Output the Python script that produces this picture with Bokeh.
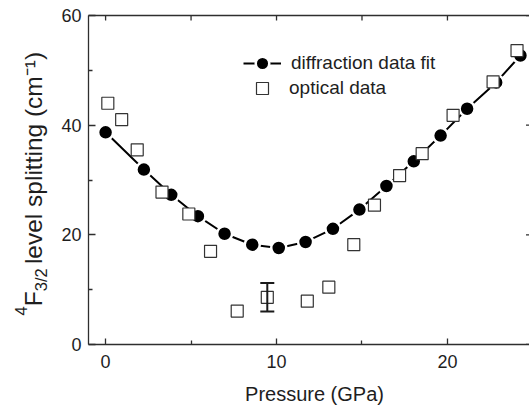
import math
from bokeh.plotting import figure
from bokeh.models import (Range1d, LinearAxis, FixedTicker, Label, Legend, LegendItem,
                          Whisker, ColumnDataSource, TeeHead)
from bokeh.embed import file_html
from bokeh.resources import INLINE

# ---- data ----
diff_p = [0.0, 2.24, 3.84, 5.40, 6.96, 8.58, 10.13, 11.70, 13.3, 14.85, 16.43, 18.03, 19.6, 21.15, 22.85, 24.27]
diff_s = [38.7, 31.9, 27.3, 23.4, 20.2, 18.2, 17.6, 18.7, 21.1, 24.6, 28.9, 33.4, 38.1, 43.0, 47.8, 52.7]

opt_p = [0.13, 0.94, 1.85, 3.3, 4.87, 6.14, 7.7, 9.46, 11.8, 13.06, 14.52, 15.73, 17.2, 18.52, 20.33, 22.67, 24.07]
opt_s = [44.0, 41.0, 35.5, 27.8, 23.8, 17.0, 6.1, 8.6, 7.9, 10.45, 18.2, 25.4, 30.8, 34.8, 41.8, 47.9, 53.6]

err_p = [9.46]
err_low = [6.0]
err_high = [11.2]

x_major = [0, 10, 20]
x_minor = [5, 15]
x_top = [0, 5, 10, 15, 20]
y_major = [0, 20, 40, 60]
y_minor = [10, 30, 50]

X0, X1 = -1.0, 24.8
Y0, Y1 = 0, 60

FONT = "Liberation Sans"
AXC = "#2e2e2e"
TXT = "#1e1e1e"
NB = "\u00a0"

p = figure(width=529, height=405, output_backend="svg", toolbar_location=None,
           x_range=Range1d(X0, X1), y_range=Range1d(Y0, Y1),
           x_axis_location=None, y_axis_location=None,
           min_border_left=88, min_border_right=0, min_border_top=15, min_border_bottom=61)
p.outline_line_color = None
p.grid.visible = False
p.background_fill_color = "white"
p.border_fill_color = "white"


def style_axis(ax):
    ax.axis_line_color = AXC
    ax.axis_line_width = 1.3
    ax.major_tick_line_color = AXC
    ax.minor_tick_line_color = AXC
    ax.major_tick_line_width = 1.3
    ax.minor_tick_line_width = 1.3
    ax.major_tick_out = 0
    ax.minor_tick_out = 0
    ax.major_label_text_font = FONT
    ax.major_label_text_font_size = "18px"
    ax.major_label_text_color = TXT


below = LinearAxis(ticker=FixedTicker(ticks=x_major, minor_ticks=x_minor))
style_axis(below)
below.major_tick_in = 6
below.minor_tick_in = 4
below.major_label_standoff = 10
p.add_layout(below, "below")

left = LinearAxis(ticker=FixedTicker(ticks=y_major, minor_ticks=y_minor))
style_axis(left)
left.major_tick_in = 7
left.minor_tick_in = 4
left.major_label_standoff = 7
p.add_layout(left, "left")

# top spine: an axis with no ticks (so no labels)
above = LinearAxis(ticker=FixedTicker(ticks=[], minor_ticks=[]))
style_axis(above)
above.major_tick_in = 0
above.major_label_standoff = 0
p.add_layout(above, "above")

# inward tick marks on the top and right edges (half of each dash is clipped by the frame)
p.scatter(x_top, [Y1] * len(x_top), marker="dash", angle=math.pi / 2, size=10,
          line_color=AXC, line_width=1.3)
p.scatter([X1] * len(y_major), y_major, marker="dash", size=7,
          line_color=AXC, line_width=1.3)

# ---- data glyphs ----
line_r = p.line(diff_p, diff_s, line_color="black", line_width=2)
circ_r = p.scatter(diff_p, diff_s, marker="circle", size=15, fill_color="black",
                   line_color="white", line_width=2.5)
sq_r = p.scatter(opt_p, opt_s, marker="square", size=12, fill_color="white",
                 line_color="#333333", line_width=1.2)

err_src = ColumnDataSource(dict(base=err_p, lower=err_low, upper=err_high))
wh = Whisker(base="base", lower="lower", upper="upper", source=err_src, dimension="height",
             line_color="#1a1a1a", line_width=2, level="overlay",
             upper_head=TeeHead(size=14, line_width=2, line_color="#1a1a1a"),
             lower_head=TeeHead(size=14, line_width=2, line_color="#1a1a1a"))
p.add_layout(wh)

leg_common = dict(border_line_color=None, background_fill_alpha=0, padding=0, margin=0,
                  spacing=0, glyph_width=38, label_height=20, label_text_font=FONT,
                  label_text_font_size="19px", label_text_color=TXT)
leg1 = Legend(items=[LegendItem(label="diffraction data fit", renderers=[line_r, circ_r])],
              location=(155, 264), glyph_height=34, label_standoff=10, **leg_common)
leg2 = Legend(items=[LegendItem(label="optical data", renderers=[sq_r])],
              location=(155, 241), glyph_height=30, label_standoff=8, **leg_common)
p.add_layout(leg1)
p.add_layout(leg2)

# ---- axis titles (canvas pixel positions; placed in side panels so they are not clipped) ----
p.add_layout(Label(x=314, y=393, x_units="canvas", y_units="canvas", text="Pressure (GPa)",
                   text_font=FONT, text_font_size="20px", text_color=TXT,
                   text_align="center", text_baseline="alphabetic"), "below")

A = math.pi / 2


def ylabel_piece(text, x, y, fs, side):
    p.add_layout(Label(x=x, y=y, x_units="canvas", y_units="canvas", text=text, angle=A,
                       text_font=FONT, text_font_size=fs, text_color=TXT,
                       text_align="left", text_baseline="alphabetic"), side)


ylabel_piece("F" + NB * 3 + NB + "level" + NB + "splitting" + NB + "(cm\u207b\u00b9)",
             33, 305.8, "24.5px", "left")
ylabel_piece("3/2", 40, 290.8, "16.5px", "left")
ylabel_piece("4", 20, 315, "16.5px", "below")

open("out.html", "w").write(file_html(p, INLINE))
